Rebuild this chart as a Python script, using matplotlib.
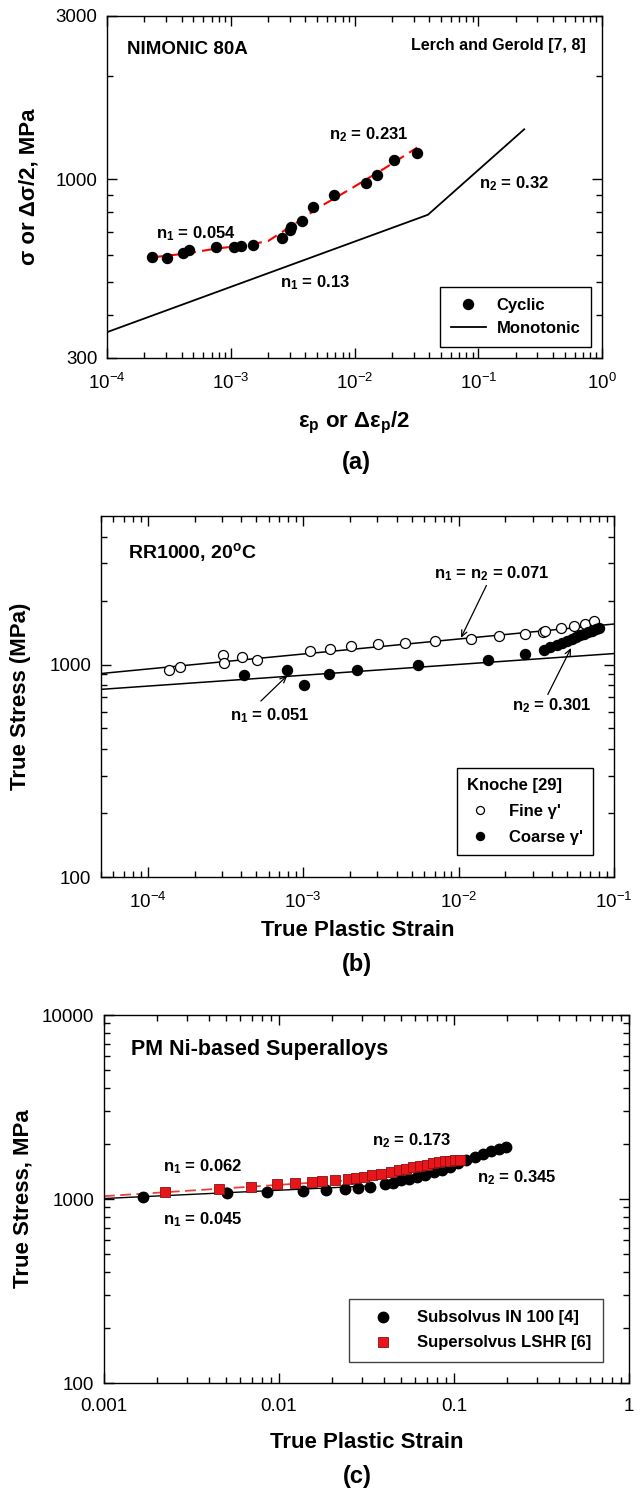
import matplotlib
matplotlib.use('Agg')
import matplotlib.pyplot as plt
from matplotlib import ticker

plt.rcParams['font.family'] = ['Liberation Sans', 'DejaVu Sans']
plt.rcParams['mathtext.default'] = 'regular'
plt.rcParams['axes.linewidth'] = 1.0

# ---------------- (a) NIMONIC 80A ----------------
cyc_strain = [2.33e-4, 3.07e-4, 4.10e-4, 4.59e-4, 7.54e-4, 1.06e-3, 1.21e-3, 1.50e-3, 2.59e-3,
              3.02e-3, 3.04e-3, 3.74e-3, 4.59e-3, 6.83e-3, 1.23e-2, 1.53e-2, 2.09e-2, 3.21e-2]
cyc_stress = [594, 588, 608, 619, 634, 634, 637, 644, 671, 708, 727, 754, 828, 899, 973, 1029, 1134, 1196]

cyc_fit_strain = [2.33e-4, 4.19e-4, 7.71e-4, 1.31e-3, 2.0e-3, 2.33e-3, 3.29e-3, 5.19e-3, 9.55e-3, 1.76e-2, 3.21e-2]
cyc_fit_stress = [591, 605, 627, 641, 659, 683, 740, 828, 942, 1077, 1237]

mono_strain = [1e-4, 3.92e-2, 0.235]
mono_stress = [357, 787, 1399]

# ---------------- (b) RR1000 ----------------
fine_strain = [1.369e-4, 1.622e-4, 3.06e-4, 3.08e-4, 4.02e-4, 5.08e-4, 1.10e-3, 1.48e-3, 2.02e-3, 3.02e-3,
               4.51e-3, 7.0e-3, 1.20e-2, 1.83e-2, 2.68e-2, 3.49e-2, 3.62e-2, 4.58e-2, 5.56e-2, 6.51e-2, 7.43e-2]
fine_stress = [944, 975, 1114, 1018, 1086, 1055, 1155, 1184, 1219, 1245,
               1268, 1296, 1324, 1362, 1397, 1418, 1433, 1486, 1513, 1557, 1596]

coarse_strain = [4.19e-4, 7.91e-4, 1.007e-3, 1.47e-3, 2.23e-3, 5.47e-3, 1.54e-2, 2.66e-2,
                 3.56e-2, 3.90e-2, 4.27e-2, 4.62e-2, 4.96e-2, 5.34e-2, 5.70e-2, 6.05e-2, 6.44e-2,
                 6.84e-2, 7.22e-2, 7.62e-2, 8.05e-2]
coarse_stress = [888, 940, 797, 901, 940, 1000, 1055, 1126,
                 1176, 1211, 1241, 1268, 1296, 1324, 1348, 1372, 1397, 1422, 1443, 1465, 1486]

fit_b_strain = [5e-5, 0.1]
fine_fit_stress = [907, 1551]
coarse_fit_stress = [764, 1126]

# ---------------- (c) PM superalloys ----------------
in100_strain = [1.67e-3, 5.06e-3, 8.54e-3, 1.365e-2, 1.866e-2, 2.38e-2, 2.82e-2, 3.32e-2, 4.01e-2, 4.46e-2,
                4.98e-2, 5.54e-2, 6.17e-2, 6.87e-2, 7.66e-2, 8.53e-2, 9.50e-2, 0.1058, 0.1178, 0.1312,
                0.146, 0.1626, 0.181, 0.1985]
in100_stress = [1027, 1080, 1094, 1112, 1117, 1131, 1150, 1165, 1199, 1229,
                1261, 1288, 1315, 1354, 1394, 1441, 1496, 1560, 1626, 1695,
                1762, 1820, 1875, 1923]

lshr_strain = [2.22e-3, 4.57e-3, 6.96e-3, 9.72e-3, 1.24e-2, 1.536e-2, 1.76e-2, 2.10e-2, 2.49e-2, 2.75e-2,
               3.06e-2, 3.41e-2, 3.84e-2, 4.35e-2, 4.84e-2, 5.33e-2, 5.85e-2, 6.41e-2, 6.99e-2, 7.57e-2,
               8.21e-2, 8.85e-2, 9.50e-2, 0.1014, 0.1081]
lshr_stress = [1094, 1131, 1165, 1199, 1225, 1240, 1256, 1266, 1282, 1303,
               1320, 1343, 1371, 1400, 1429, 1459, 1489, 1515, 1534, 1560,
               1580, 1600, 1613, 1620, 1626]

in100_fit_strain = [1e-3, 3.5e-2]
in100_fit_stress = [1006, 1181]
lshr_fit_strain = [1e-3, 2.5e-2]
lshr_fit_stress = [1036, 1263]

W, H = 642, 1491
fig = plt.figure(figsize=(W / 100, H / 100), dpi=100)


def add_ax(l, r, t, b):
    return fig.add_axes([l / W, 1 - b / H, (r - l) / W, (b - t) / H])


def g_fmt(v, pos):
    return '{:g}'.format(v)


def style(ax, xlim, ylim, ymajor, yminor, xplain=False):
    ax.set_xscale('log')
    ax.set_yscale('log')
    ax.set_xlim(*xlim)
    ax.set_ylim(*ylim)
    ax.yaxis.set_major_locator(ticker.FixedLocator(ymajor))
    ax.yaxis.set_minor_locator(ticker.FixedLocator(yminor))
    ax.yaxis.set_major_formatter(ticker.FuncFormatter(g_fmt))
    ax.yaxis.set_minor_formatter(ticker.NullFormatter())
    ax.xaxis.set_major_locator(ticker.LogLocator(base=10))
    ax.xaxis.set_minor_locator(ticker.LogLocator(base=10, subs=range(2, 10), numticks=20))
    ax.xaxis.set_minor_formatter(ticker.NullFormatter())
    if xplain:
        ax.xaxis.set_major_formatter(ticker.FuncFormatter(g_fmt))
    ax.tick_params(which='both', direction='in', top=True, right=True, width=1.0, labelsize=13.5)
    ax.tick_params(which='major', length=7.5)
    ax.tick_params(axis='y', which='major', pad=7)
    ax.tick_params(axis='x', which='major', pad=11)
    ax.tick_params(which='minor', length=4.3)


def labels(ax, xl, yl, xl_y, yl_x):
    ax.set_xlabel(xl, fontsize=16, fontweight='bold')
    ax.set_ylabel(yl, fontsize=16, fontweight='bold')
    ax.xaxis.set_label_coords(0.5, xl_y)
    ax.xaxis.label.set_va('center')
    ax.yaxis.set_label_coords(yl_x, 0.5)
    ax.yaxis.label.set_va('center')


bold = dict(fontweight='bold', fontsize=12, va='center')

# ---- panel a
ax = add_ax(107, 602, 16, 358)
style(ax, (1e-4, 1), (300, 3000), [300, 1000, 3000], [400, 500, 600, 700, 800, 900, 2000])
ax.plot(cyc_fit_strain, cyc_fit_stress, color='red', lw=1.5, dashes=(5, 3), zorder=2)
h1, = ax.plot(cyc_strain, cyc_stress, 'o', color='black', ms=7.2, ls='none', zorder=3)
h2, = ax.plot(mono_strain, mono_stress, '-', color='black', lw=1.3)
ax.text(0.040, 0.901, 'NIMONIC 80A', transform=ax.transAxes, fontsize=13.5, fontweight='bold', va='center')
ax.text(0.967, 0.914, 'Lerch and Gerold [7, 8]', transform=ax.transAxes, fontsize=11.5,
        fontweight='bold', va='center', ha='right')
ax.text(0.449, 0.652, r'n$_2$ = 0.231', transform=ax.transAxes, **bold)
ax.text(0.752, 0.509, r'n$_2$ = 0.32', transform=ax.transAxes, **bold)
ax.text(0.099, 0.365, r'n$_1$ = 0.054', transform=ax.transAxes, **bold)
ax.text(0.350, 0.221, r'n$_1$ = 0.13', transform=ax.transAxes, **bold)
leg = ax.legend([h1, h2], ['Cyclic', 'Monotonic'], loc='lower right', bbox_to_anchor=(0.978, 0.032),
                borderaxespad=0, fancybox=False, edgecolor='black', framealpha=1,
                prop=dict(weight='bold', size=12), borderpad=0.65, labelspacing=0.5,
                handlelength=2.15, handletextpad=0.6)
leg.get_frame().set_linewidth(1.0)
labels(ax, r'ε$_p$ or Δε$_p$/2', 'σ or Δσ/2, MPa', -0.19, -0.158)
fig.text(356 / W, 1 - 462 / H, '(a)', fontsize=17, fontweight='bold', ha='center', va='center')

# ---- panel b
ax = add_ax(101, 614, 516, 877)
style(ax, (5e-5, 0.1), (100, 5000), [100, 1000],
      [200, 300, 400, 500, 600, 700, 800, 900, 2000, 3000, 4000])
ax.plot(fit_b_strain, fine_fit_stress, '-', color='black', lw=1.1)
ax.plot(fit_b_strain, coarse_fit_stress, '-', color='black', lw=1.1)
h1, = ax.plot(fine_strain, fine_stress, 'o', mfc='white', mec='black', mew=0.9, ms=7.2, ls='none')
h2, = ax.plot(coarse_strain, coarse_stress, 'o', color='black', ms=7.2, ls='none')
ax.text(0.052, 0.899, r'RR1000, 20$^o$C', transform=ax.transAxes, fontsize=14, fontweight='bold', va='center')
ax.text(0.649, 0.841, r'n$_1$ = n$_2$ = 0.071', transform=ax.transAxes, **bold)
ax.text(0.251, 0.447, r'n$_1$ = 0.051', transform=ax.transAxes, **bold)
ax.text(0.801, 0.475, r'n$_2$ = 0.301', transform=ax.transAxes, **bold)
arrow = dict(arrowstyle='->,head_length=0.45,head_width=0.2', lw=0.9, color='black', shrinkA=0, shrinkB=0)
ax.annotate('', xy=(1.035e-2, 1334), xytext=(1.51e-2, 2355), arrowprops=arrow)
ax.annotate('', xy=(7.91e-4, 888), xytext=(5.34e-4, 673), arrowprops=arrow)
ax.annotate('', xy=(5.30e-2, 1197), xytext=(3.75e-2, 723), arrowprops=arrow)
leg = ax.legend([h1, h2], ["Fine γ'", "Coarse γ'"], title='Knoche [29]', loc='lower right',
                bbox_to_anchor=(0.959, 0.061), borderaxespad=0, fancybox=False, edgecolor='black',
                framealpha=1, prop=dict(weight='bold', size=12), borderpad=0.6, labelspacing=0.65,
                handlelength=1.5, handletextpad=1.0, markerscale=0.8, alignment='left',
                title_fontproperties=dict(weight='bold', size=12))
leg.get_frame().set_linewidth(1.0)
labels(ax, 'True Plastic Strain', 'True Stress (MPa)', -0.147, -0.157)
fig.text(357 / W, 1 - 964 / H, '(b)', fontsize=17, fontweight='bold', ha='center', va='center')

# ---- panel c
ax = add_ax(104, 629, 1015, 1383)
style(ax, (1e-3, 1), (100, 10000), [100, 1000, 10000],
      [200, 300, 400, 500, 600, 700, 800, 900, 2000, 3000, 4000, 5000, 6000, 7000, 8000, 9000],
      xplain=True)
ax.plot(in100_fit_strain, in100_fit_stress, '-', color='black', lw=1.0)
ax.plot(lshr_fit_strain, lshr_fit_stress, color='#e8403a', lw=1.3, dashes=(6, 3))
h1, = ax.plot(in100_strain, in100_stress, 'o', color='black', ms=7.5, ls='none')
h2, = ax.plot(lshr_strain, lshr_stress, 's', mfc='#e8161b', mec='#8a1010', mew=0.6, ms=7.2, ls='none')
ax.text(0.051, 0.905, 'PM Ni-based Superalloys', transform=ax.transAxes, fontsize=15.5,
        fontweight='bold', va='center')
ax.text(0.511, 0.658, r'n$_2$ = 0.173', transform=ax.transAxes, **bold)
ax.text(0.1115, 0.5875, r'n$_1$ = 0.062', transform=ax.transAxes, **bold)
ax.text(0.711, 0.558, r'n$_2$ = 0.345', transform=ax.transAxes, **bold)
ax.text(0.1115, 0.444, r'n$_1$ = 0.045', transform=ax.transAxes, **bold)
leg = ax.legend([h1, h2], ['Subsolvus IN 100 [4]', 'Supersolvus LSHR [6]'], loc='lower right',
                bbox_to_anchor=(0.950, 0.057), borderaxespad=0, fancybox=False, edgecolor='#444444',
                framealpha=1, prop=dict(weight='bold', size=12), borderpad=0.7, labelspacing=0.6,
                handlelength=2.6, handletextpad=0.75)
leg.get_frame().set_linewidth(1.0)
labels(ax, 'True Plastic Strain', 'True Stress, MPa', -0.163, -0.155)
fig.text(357 / W, 1 - 1477 / H, '(c)', fontsize=17, fontweight='bold', ha='center', va='center')

fig.savefig('out.png', dpi=100)
